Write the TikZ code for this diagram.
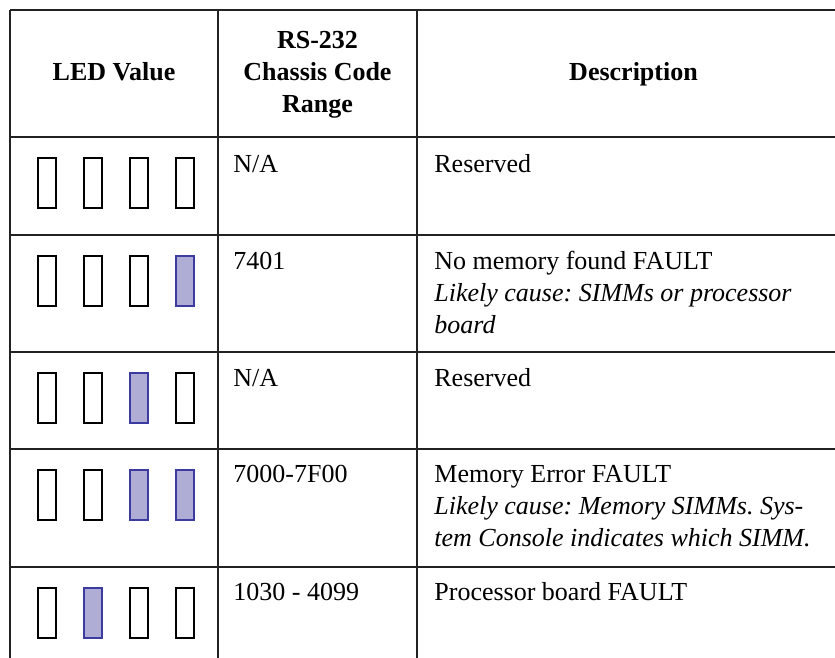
\documentclass[tikz,border=0pt]{standalone}
\usepackage{fontspec}
\setmainfont{Liberation Serif}
\frenchspacing
\definecolor{ledfill}{HTML}{AFADD6}
\definecolor{ledrim}{HTML}{3C3CA0}
\definecolor{rulecol}{HTML}{222222}
\begin{document}
\begin{tikzpicture}[x=0.5pt,y=-0.5pt,
  tablerule/.style={draw=rulecol,line width=1pt},
  ledoff/.style={draw=black,line width=0.7pt,fill=white},
  ledon/.style={draw=ledrim,line width=0.7pt,fill=ledfill},
  head/.style={font=\fontsize{13}{16}\selectfont\bfseries,inner sep=0pt,align=center},
  cell/.style={font=\fontsize{13}{16}\selectfont,inner sep=0pt,anchor=base west}]
\useasboundingbox (0,0) rectangle (835,658);

% table rules
\foreach \y in {10,137,235,352,449,567}
  \draw[tablerule] (10,\y) -- (835,\y);
\foreach \x in {10,218,417}
  \draw[tablerule] (\x,10) -- (\x,658);

% LED patterns, one row of four lamps per table row
\foreach \top/\a/\b/\c/\d in {137/0/0/0/0,235/0/0/0/1,352/0/0/1/0,449/0/0/1/1,567/0/1/0/0}{
  \foreach \k/\v in {0/\a,1/\b,2/\c,3/\d}{
    \ifnum\v=1
      \draw[ledon] ({38+46*\k},{\top+21}) rectangle ++(18,50);
    \else
      \draw[ledoff] ({38+46*\k},{\top+21}) rectangle ++(18,50);
    \fi
  }
}

% header
\node[head,anchor=base] (hled) at (114,81) {LED Value};
\node[head] (hcode) at (317.5,75) {RS-232\\Chassis Code\\Range};
\node[head,anchor=base] (hdesc) at (633.5,81) {Description};

% body
\node[cell] (c1) at (233,172) {N/A};
\node[cell] (d1) at (434,172) {Reserved};

\node[cell] (c2) at (233,269) {7401};
\node[cell] (d2) at (434,269) {\parbox[t]{230pt}{No memory found FAULT\\
  \itshape Likely cause: SIMMs or processor\\board}};

\node[cell] (c3) at (233,386) {N/A};
\node[cell] (d3) at (434,386) {Reserved};

\node[cell] (c4) at (233,482) {7000-7F00};
\node[cell] (d4) at (434,482) {\parbox[t]{230pt}{Memory Error FAULT\\
  \itshape Likely cause: Memory SIMMs. Sys-\\tem Console indicates which SIMM.}};

\node[cell] (c5) at (233,600) {1030 - 4099};
\node[cell] (d5) at (434,600) {Processor board FAULT};
\end{tikzpicture}
\end{document}
